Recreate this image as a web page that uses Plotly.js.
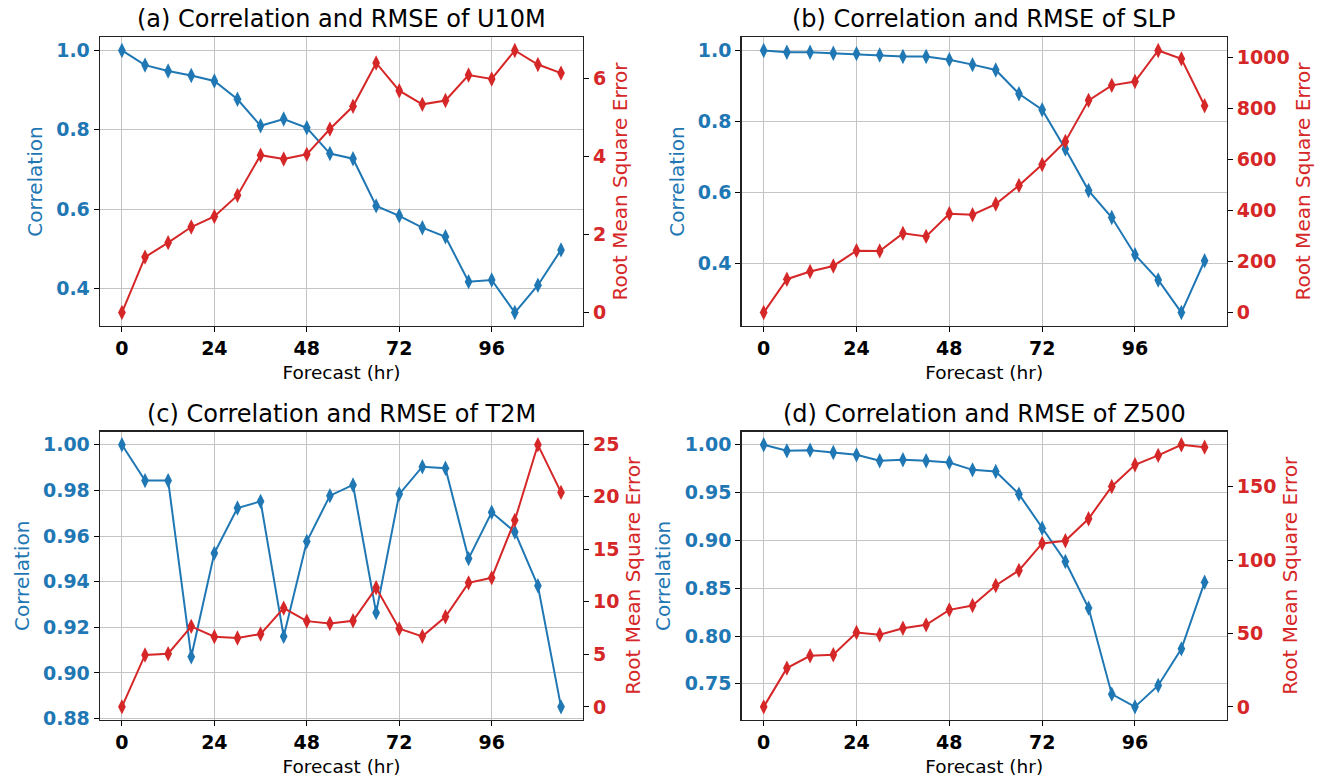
<!DOCTYPE html>
<html>
<head>
<meta charset="utf-8">
<script src="https://cdn.plot.ly/plotly-3.0.1.min.js"></script>
<style>html,body{margin:0;padding:0;background:#fff}#chart{width:1331px;height:778px}</style>
</head>
<body>
<div id="chart"></div>
<script>
// Forecast lead times (hr)
const leadHours = [0,6,12,18,24,30,36,42,48,54,60,66,72,78,84,90,96,102,108,114];
const xTicks = [0,24,48,72,96];

// (a) U10M
const corrU10M = [1.000,0.963,0.948,0.937,0.923,0.877,0.810,0.827,0.805,0.740,0.727,0.608,0.583,0.553,0.530,0.417,0.421,0.339,0.408,0.497];
const rmseU10M = [0.00,1.42,1.79,2.19,2.46,3.00,4.03,3.93,4.05,4.70,5.28,6.39,5.68,5.33,5.43,6.08,5.98,6.71,6.35,6.13];

// (b) SLP
const corrSLP = [1.000,0.995,0.995,0.992,0.991,0.987,0.983,0.983,0.974,0.960,0.945,0.878,0.833,0.722,0.605,0.529,0.424,0.353,0.261,0.407];
const rmseSLP = [0,131,161,183,243,242,311,299,388,384,426,499,581,672,833,892,907,1029,996,812];

// (c) T2M
const corrT2M = [1.0000,0.9843,0.9843,0.9071,0.9525,0.9723,0.9752,0.9160,0.9576,0.9777,0.9824,0.9264,0.9784,0.9904,0.9897,0.9501,0.9704,0.9618,0.9382,0.8851];
const rmseT2M = [0.00,4.94,5.06,7.66,6.68,6.55,6.93,9.40,8.16,7.94,8.20,11.33,7.44,6.71,8.58,11.80,12.28,17.75,24.94,20.41];

// (d) Z500
const corrZ500 = [1.0000,0.9937,0.9944,0.9920,0.9895,0.9833,0.9843,0.9833,0.9815,0.9738,0.9721,0.9484,0.9128,0.8780,0.8292,0.7392,0.7259,0.7483,0.7866,0.8563];
const rmseZ500 = [0.0,26.4,34.8,35.5,50.7,49.1,53.6,55.9,66.1,69.1,82.7,93.0,111.4,113.2,128.2,150.2,165.0,171.4,178.6,177.0];

const titles = ['(a) Correlation and RMSE of U10M','(b) Correlation and RMSE of SLP','(c) Correlation and RMSE of T2M','(d) Correlation and RMSE of Z500'];
const corrSets = [corrU10M, corrSLP, corrT2M, corrZ500];
const rmseSets = [rmseU10M, rmseSLP, rmseT2M, rmseZ500];
const corrDticks = [0.2, 0.2, 0.02, 0.05];
const corrFormats = ['.1f', '.1f', '.2f', '.2f'];
const rmseDticks = [2, 200, 5, 50];

const BLUE = '#1f77b4', RED = '#d62728';
const FONT = 'DejaVu Sans, sans-serif';
const xDomains = [[0.0751,0.438],[0.5572,0.9216],[0.0751,0.438],[0.5572,0.9216]];
const yDomains = [[0.5814,0.952],[0.5814,0.952],[0.0746,0.4451],[0.0746,0.4451]];

function padRange(arr){
  const lo = Math.min(...arr), hi = Math.max(...arr);
  const p = (hi - lo) * 0.05;
  return [lo - p, hi + p];
}

const data = [];
const layout = {
  width: 1331, height: 778,
  margin: {l:0, r:0, t:0, b:0},
  paper_bgcolor: '#fff', plot_bgcolor: '#fff',
  showlegend: false,
  font: {family: FONT, size: 16, color: '#000'},
  annotations: []
};

for (let i = 0; i < 4; i++) {
  const xn = i + 1;
  const yl = 2*i + 1, yr = 2*i + 2;
  const xKey = 'xaxis' + (xn === 1 ? '' : xn);
  const ylKey = 'yaxis' + (yl === 1 ? '' : yl);
  const yrKey = 'yaxis' + yr;
  const xRef = 'x' + (xn === 1 ? '' : xn);
  const ylRef = 'y' + (yl === 1 ? '' : yl);
  const yrRef = 'y' + yr;

  data.push({
    x: leadHours, y: corrSets[i], type: 'scatter', mode: 'lines+markers',
    xaxis: xRef, yaxis: ylRef,
    line: {color: BLUE, width: 2},
    marker: {symbol: 'diamond-tall', size: 11, color: BLUE}
  });
  data.push({
    x: leadHours, y: rmseSets[i], type: 'scatter', mode: 'lines+markers',
    xaxis: xRef, yaxis: yrRef,
    line: {color: RED, width: 2},
    marker: {symbol: 'diamond-tall', size: 11, color: RED}
  });

  layout[xKey] = {
    domain: xDomains[i], anchor: ylRef,
    range: padRange(leadHours),
    tickmode: 'array', tickvals: xTicks, ticktext: xTicks.map(String),
    ticks: 'outside', ticklen: 5, tickcolor: '#000', tickwidth: 1,
    tickfont: {family: FONT, size: 19, color: '#000', weight: 'bold'},
    showgrid: true, gridcolor: '#c4c4c4', gridwidth: 1,
    showline: true, linecolor: '#222', linewidth: 1.3, mirror: true,
    zeroline: false,
    title: {text: 'Forecast (hr)', font: {family: FONT, size: 18.5, color: '#000'}, standoff: 8}
  };
  layout[ylKey] = {
    domain: yDomains[i], anchor: xRef,
    range: padRange(corrSets[i]),
    dtick: corrDticks[i], tick0: 0, tickformat: corrFormats[i],
    ticks: 'outside', ticklen: 5, tickcolor: '#000', tickwidth: 1,
    tickfont: {family: FONT, size: 19, color: BLUE, weight: 'bold'},
    showgrid: true, gridcolor: '#c4c4c4', gridwidth: 1,
    showline: true, linecolor: '#222', linewidth: 1.3,
    zeroline: false,
    title: {text: 'Correlation', font: {family: FONT, size: 20, color: BLUE}, standoff: 8}
  };
  layout[yrKey] = {
    overlaying: ylRef, side: 'right', anchor: xRef,
    range: padRange(rmseSets[i]),
    dtick: rmseDticks[i], tick0: 0,
    ticks: 'outside', ticklen: 5, tickcolor: '#000', tickwidth: 1,
    tickfont: {family: FONT, size: 19, color: RED, weight: 'bold'},
    showgrid: false,
    showline: true, linecolor: '#222', linewidth: 1.3,
    zeroline: false,
    title: {text: 'Root Mean Square Error', font: {family: FONT, size: 20, color: RED}, standoff: 7}
  };

  layout.annotations.push({
    text: titles[i], xref: 'paper', yref: 'paper',
    x: (xDomains[i][0] + xDomains[i][1]) / 2, y: yDomains[i][1],
    xanchor: 'center', yanchor: 'bottom', yshift: 2, showarrow: false,
    font: {family: FONT, size: 24, color: '#000'}
  });
}

Plotly.newPlot('chart', data, layout, {displayModeBar: false, staticPlot: true});
</script>
</body>
</html>
